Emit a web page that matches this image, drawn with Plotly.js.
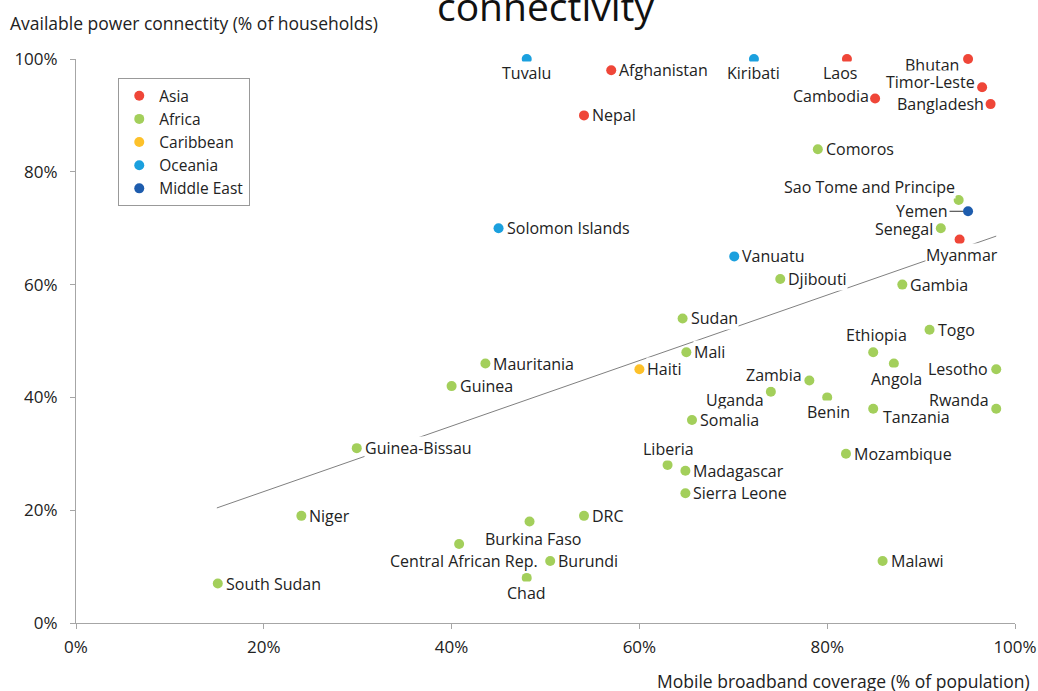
<!DOCTYPE html>
<html>
<head>
<meta charset="utf-8">
<script src="https://cdn.plot.ly/plotly-3.0.1.min.js"></script>
<style>html,body{margin:0;padding:0;background:#fff;}#chart{width:1038px;height:691px;}</style>
</head>
<body>
<div id="chart"></div>
<script>
// ---- data ----
const countries = ["Tuvalu","Afghanistan","Kiribati","Laos","Bhutan","Timor-Leste","Bangladesh","Cambodia","Nepal","Comoros","Sao Tome and Principe","Yemen","Senegal","Myanmar","Solomon Islands","Vanuatu","Djibouti","Gambia","Sudan","Togo","Mali","Ethiopia","Angola","Mauritania","Lesotho","Haiti","Guinea","Zambia","Uganda","Benin","Tanzania","Rwanda","Somalia","Guinea-Bissau","Mozambique","Liberia","Madagascar","Sierra Leone","Niger","Burkina Faso","DRC","Central African Rep.","Burundi","Chad","Malawi","South Sudan"];
const regions = ["Oceania","Asia","Oceania","Asia","Asia","Asia","Asia","Asia","Asia","Africa","Africa","Middle East","Africa","Asia","Oceania","Oceania","Africa","Africa","Africa","Africa","Africa","Africa","Africa","Africa","Africa","Caribbean","Africa","Africa","Africa","Africa","Africa","Africa","Africa","Africa","Africa","Africa","Africa","Africa","Africa","Africa","Africa","Africa","Africa","Africa","Africa","Africa"];
const broadband = [48,57,72.2,82.1,95,96.5,97.4,85.1,54.1,79,94,95,92.1,94.1,45,70.1,75,88,64.6,90.9,65,84.9,87.1,43.6,98,60,40,78.1,74,80,84.9,98,65.6,29.9,82,63,64.9,64.9,24,48.3,54.1,40.8,50.5,48,85.9,15.1];
const power = [100,98,100,100,100,95,92,93,90,84,75,73,70,68,70,65,61,60,54,52,48,48,46,46,45,45,42,43,41,40,38,38,36,31,30,28,27,23,19,18,19,14,11,8,11,7];
const regionOrder = ["Asia","Africa","Caribbean","Oceania","Middle East"];
const trendX = [15, 98];
const trendY = [20.4, 68.6];
const tickVals = [0,20,40,60,80,100];
const tickText = ["0%","20%","40%","60%","80%","100%"];

// ---- style ----
const regionColors = {"Asia":"#EF4638","Africa":"#A3CF5B","Caribbean":"#FDC12A","Oceania":"#1BA0DE","Middle East":"#1D5CAD"};
const FONT = "'Open Sans', 'Noto Sans', sans-serif";
const LBL = 16;
// label placement: [xanchor, xshift, yshift]
const place = {
  "Tuvalu":["center",0,-14],"Kiribati":["center",0,-14],"Laos":["center",-6,-14],
  "Bhutan":["right",-8,-6],"Timor-Leste":["right",-6,5],"Bangladesh":["right",-6,0],
  "Cambodia":["right",-5,2],"Sao Tome and Principe":["right",-3,13],"Senegal":["right",-7,-1],
  "Myanmar":["center",2,-16],"Ethiopia":["center",3,17],"Angola":["center",3,-15],
  "Lesotho":["right",-7,0],"Zambia":["right",-6,5],"Uganda":["right",-6,-8],
  "Benin":["center",1,-15],"Tanzania":["left",9,-8],"Rwanda":["right",-6,9],
  "Liberia":["center",1,16],"Burkina Faso":["center",3,-18],"Central African Rep.":["center",5,-17],
  "Chad":["center",0,-15]
};

const traces = [{
  x: trendX, y: trendY, mode: "lines", type: "scatter",
  line: {color: "#808080", width: 1}, showlegend: false, hoverinfo: "skip"
}];
regionOrder.forEach(r => {
  const xs = [], ys = [], ts = [];
  countries.forEach((c, i) => { if (regions[i] === r) { xs.push(broadband[i]); ys.push(power[i]); ts.push(c); } });
  traces.push({
    x: xs, y: ys, text: ts, name: r, type: "scatter", mode: "markers",
    marker: {color: regionColors[r], size: 10}, cliponaxis: false
  });
});

const annotations = [];
countries.forEach((c, i) => {
  if (c === "Yemen") {
    annotations.push({x: broadband[i], y: power[i], xref: "x", yref: "y", text: c,
      showarrow: true, arrowhead: 0, arrowwidth: 1, arrowcolor: "#333", ax: -46, ay: 0,
      standoff: 5, font: {family: FONT, size: LBL, color: "#222"}, bgcolor: "rgba(255,255,255,0)"});
    return;
  }
  const p = place[c] || ["left", 7, 0];
  annotations.push({x: broadband[i], y: power[i], xref: "x", yref: "y", text: c,
    showarrow: false, xanchor: p[0], yanchor: "middle", xshift: p[1], yshift: p[2],
    font: {family: FONT, size: LBL, color: "#222"}, bgcolor: "#fff", borderpad: 0});
});
annotations.push({xref: "paper", yref: "paper", x: -0.072, y: 1.064, xanchor: "left", yanchor: "middle",
  text: "Available power connectity (% of households)", showarrow: false,
  font: {family: FONT, size: 17.5, color: "#222"}});
annotations.push({xref: "paper", yref: "paper", x: 1.018, y: -0.102, xanchor: "right", yanchor: "middle",
  text: "Mobile broadband coverage (% of population)", showarrow: false,
  font: {family: FONT, size: 17.5, color: "#222"}});

const layout = {
  width: 1038, height: 691,
  margin: {l: 76, r: 23, t: 59, b: 68},
  paper_bgcolor: "#fff", plot_bgcolor: "#fff",
  font: {family: FONT, color: "#222"},
  title: {text: "connectivity", xref: "paper", x: 0.5, xanchor: "center", yref: "container", y: 0.99, yanchor: "middle",
    font: {family: FONT, size: 39, color: "#111"}},
  xaxis: {range: [0, 100], tickvals: tickVals, ticktext: tickText, showgrid: false, zeroline: false,
    showline: true, linecolor: "#a6a6a6", linewidth: 1, ticks: "outside", ticklen: 5, tickcolor: "#a6a6a6",
    ticklabelstandoff: 4,
    tickfont: {family: FONT, size: 17, color: "#222"}, fixedrange: true},
  yaxis: {range: [0, 100], tickvals: tickVals, ticktext: tickText, showgrid: false, zeroline: false,
    showline: true, linecolor: "#a6a6a6", linewidth: 1, ticks: "outside", ticklen: 5, tickcolor: "#a6a6a6",
    ticklabelstandoff: 9,
    tickfont: {family: FONT, size: 17, color: "#222"}, fixedrange: true},
  legend: {x: 0.045, y: 0.966, xanchor: "left", yanchor: "top", bgcolor: "#fff", bordercolor: "#999", borderwidth: 1,
    font: {family: FONT, size: 15.5, color: "#222"}, tracegroupgap: 0, itemwidth: 30},
  annotations: annotations,
  showlegend: true
};
Plotly.newPlot("chart", traces, layout, {displayModeBar: false, staticPlot: true});
</script>
</body>
</html>
